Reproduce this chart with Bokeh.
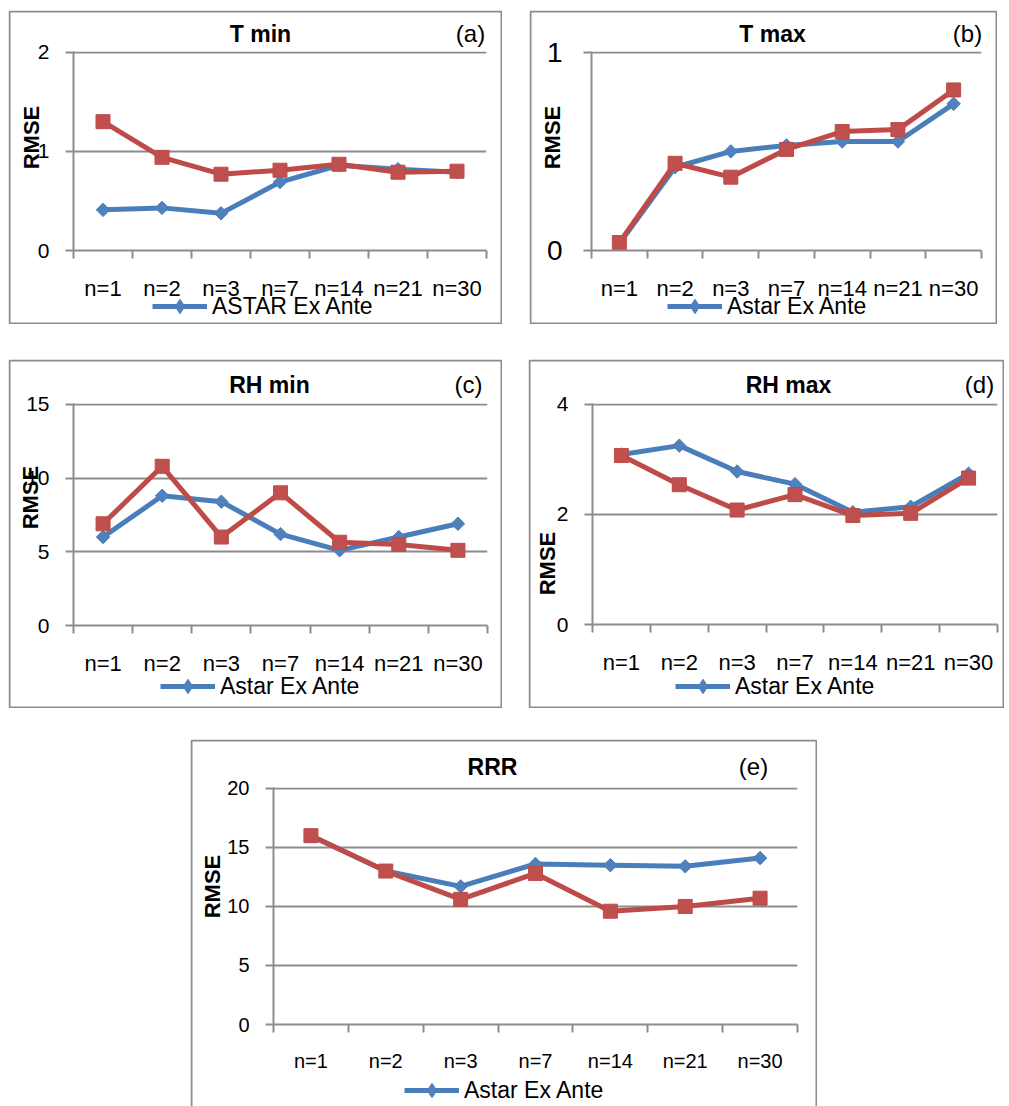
import math
from bokeh.plotting import figure
from bokeh.models import (Range1d, FixedTicker, Label, Legend, LegendItem, Spacer,
                          GridBox, BoxAnnotation)
from bokeh.layouts import column, row
from bokeh.embed import file_html
from bokeh.resources import INLINE

categories = ["n=1", "n=2", "n=3", "n=7", "n=14", "n=21", "n=30"]

tmin_astar = [0.41, 0.43, 0.375, 0.69, 0.86, 0.82, 0.79]
tmin_other = [1.30, 0.94, 0.77, 0.81, 0.87, 0.79, 0.80]
tmax_astar = [0.035, 0.42, 0.50, 0.53, 0.55, 0.55, 0.74]
tmax_other = [0.04, 0.44, 0.37, 0.51, 0.60, 0.61, 0.81]
rhmin_astar = [6.0, 8.8, 8.4, 6.2, 5.1, 6.0, 6.9]
rhmin_other = [6.9, 10.8, 6.0, 9.0, 5.65, 5.5, 5.1]
rhmax_astar = [3.09, 3.25, 2.78, 2.55, 2.04, 2.14, 2.74]
rhmax_other = [3.07, 2.54, 2.08, 2.36, 1.98, 2.02, 2.66]
rrr_astar = [16.0, 13.0, 11.7, 13.6, 13.5, 13.4, 14.1]
rrr_other = [16.0, 13.0, 10.6, 12.8, 9.6, 10.0, 10.7]

titles = ["T min", "T max", "RH min", "RH max", "RRR"]
tags = ["(a)", "(b)", "(c)", "(d)", "(e)"]
legend_labels = ["ASTAR Ex Ante", "Astar Ex Ante", "Astar Ex Ante", "Astar Ex Ante", "Astar Ex Ante"]
y_ticks = [[0, 1, 2], [0, 1], [0, 5, 10, 15], [0, 2, 4], [0, 5, 10, 15, 20]]
y_label = "RMSE"

FONT = "Liberation Sans"
GRAY = "#8c8c8c"
BLUE_LINE = "#4A7EBB"
BLUE_FILL = "#4F81BD"
RED_LINE = "#BE4B48"
RED_FILL = "#C0504D"


def panel(title, tag, legend_label, blue, red, ticks, W, H, fl, fr, ft, fb,
          title_xy, tag_xy, rmse_xy, leg_x, leg_cy, tick_fs="22px",
          ytick_fs="21px", ystand=16, xstand=17, border_bottom=True):
    ymax = ticks[-1]
    xs = [i + 0.5 for i in range(len(categories))]

    # --- chart (axes + data) ---
    p = figure(width=W, height=H, x_range=Range1d(0, len(categories)),
               y_range=Range1d(0, ymax * 1.004), title=None,
               output_backend="svg", toolbar_location=None, tools="",
               min_border_left=fl, min_border_right=W - fr,
               min_border_top=ft, min_border_bottom=H - fb)
    p.frame_align = False
    p.outline_line_color = None
    p.background_fill_color = "white"
    p.border_fill_color = "white"

    xa = p.xaxis[0]
    xa.ticker = FixedTicker(ticks=xs, minor_ticks=list(range(len(categories) + 1)))
    xa.major_label_overrides = {x: c for x, c in zip(xs, categories)}
    xa.major_tick_line_color = None
    xa.major_tick_in = 0
    xa.major_tick_out = 0
    xa.minor_tick_line_color = GRAY
    xa.minor_tick_line_width = 2
    xa.minor_tick_in = 0
    xa.minor_tick_out = 8
    xa.axis_line_color = GRAY
    xa.axis_line_width = 2
    xa.major_label_standoff = xstand
    xa.major_label_text_font = FONT
    xa.major_label_text_font_size = tick_fs
    xa.major_label_text_color = "black"

    ya = p.yaxis[0]
    ya.ticker = FixedTicker(ticks=ticks)
    ya.minor_tick_line_color = None
    ya.major_tick_line_color = GRAY
    ya.major_tick_line_width = 2
    ya.major_tick_in = 0
    ya.major_tick_out = 8
    ya.axis_line_color = GRAY
    ya.axis_line_width = 2
    ya.major_label_standoff = ystand
    ya.major_label_text_font = FONT
    ya.major_label_text_font_size = ytick_fs
    ya.major_label_text_color = "black"

    p.xgrid.visible = False
    p.ygrid.ticker = FixedTicker(ticks=ticks)
    p.ygrid.grid_line_color = GRAY
    p.ygrid.grid_line_width = 2

    p.line(xs, blue, line_color=BLUE_LINE, line_width=5)
    p.scatter(xs, blue, marker="square", angle=math.pi / 4, size=9.5,
              fill_color=BLUE_FILL, line_color=BLUE_LINE)
    p.line(xs, red, line_color=RED_LINE, line_width=5)
    p.scatter(xs, red, marker="square", size=14, fill_color=RED_FILL,
              line_color=RED_LINE)

    # --- transparent overlay for texts, legend and frame border ---
    q = figure(width=W, height=H, x_range=Range1d(0, W), y_range=Range1d(0, H),
               title=None, output_backend="svg", toolbar_location=None, tools="",
               x_axis_location=None, y_axis_location=None, min_border=0)
    q.frame_align = False
    q.grid.visible = False
    q.outline_line_color = None
    q.background_fill_alpha = 0
    q.border_fill_alpha = 0

    lb = q.line(xs, blue, line_color=BLUE_LINE, line_width=5, visible=False)
    sb = q.scatter(xs, blue, marker="diamond", size=14,
                   fill_color=BLUE_FILL, line_color=BLUE_LINE, visible=False)

    bottom = 1 if border_bottom else -10
    q.add_layout(BoxAnnotation(left=1, right=W - 1, top=H - 1, bottom=bottom,
                               fill_alpha=0, line_color=GRAY, line_alpha=1,
                               line_width=2))

    def sc(cx, cy):
        return cx, H - cy

    tx, ty = sc(*title_xy)
    q.add_layout(Label(x=tx, y=ty, x_units="screen", y_units="screen", text=title,
                       text_align="center", text_baseline="middle",
                       text_font=FONT, text_font_style="bold",
                       text_font_size="23px", text_color="black"))
    gx, gy = sc(*tag_xy)
    q.add_layout(Label(x=gx, y=gy, x_units="screen", y_units="screen", text=tag,
                       text_align="center", text_baseline="middle",
                       text_font=FONT, text_font_size="24px", text_color="black"))
    rx, ry = sc(*rmse_xy)
    q.add_layout(Label(x=rx, y=ry, x_units="screen", y_units="screen", text=y_label,
                       angle=math.pi / 2, text_align="center", text_baseline="middle",
                       text_font=FONT, text_font_style="bold",
                       text_font_size="22px", text_color="black"))
    gh = 36
    lx, ly = sc(leg_x, leg_cy + gh / 2)
    leg = Legend(items=[LegendItem(label=legend_label, renderers=[lb, sb])],
                 location=(lx, ly), orientation="horizontal", padding=0, margin=0,
                 spacing=0, glyph_width=55, glyph_height=gh, label_height=gh,
                 label_standoff=5, label_text_font=FONT,
                 label_text_font_size="23px", label_text_color="black",
                 border_line_color=None, background_fill_alpha=0,
                 inactive_fill_alpha=0)
    q.add_layout(leg)

    return GridBox(children=[(p, 0, 0), (q, 0, 0)])


ga = panel(titles[0], tags[0], legend_labels[0], tmin_astar, tmin_other, y_ticks[0],
           494, 314, 65, 478, 41, 240, (252, 23), (462, 23), (23, 127), 144, 296)
gb = panel(titles[1], tags[1], legend_labels[1], tmax_astar, tmax_other, y_ticks[1],
           468, 314, 62, 452, 41, 240, (243, 23), (438, 23), (23, 127), 138, 296,
           ytick_fs="28px", ystand=21)
gc = panel(titles[2], tags[2], legend_labels[2], rhmin_astar, rhmin_other, y_ticks[2],
           494, 349, 65, 479, 44, 266, (261, 25), (460, 25), (22, 138), 152, 327)
gd = panel(titles[3], tags[3], legend_labels[3], rhmax_astar, rhmax_other, y_ticks[3],
           476, 349, 64, 469, 44, 265, (260, 25), (451, 25), (19, 204), 147, 327)
ge = panel(titles[4], tags[4], legend_labels[4], rrr_astar, rrr_other, y_ticks[4],
           627, 367, 83, 607, 48, 285, (302, 27), (563, 27), (22, 147), 214, 351,
           tick_fs="20px", ytick_fs="20px", border_bottom=False)

layout = column(
    Spacer(height=10),
    row(Spacer(width=8), ga, Spacer(width=27), gb),
    Spacer(height=35),
    row(Spacer(width=8), gc, Spacer(width=26), gd),
    Spacer(height=31),
    row(Spacer(width=190), ge),
)

open("out.html", "w").write(file_html(layout, INLINE))
